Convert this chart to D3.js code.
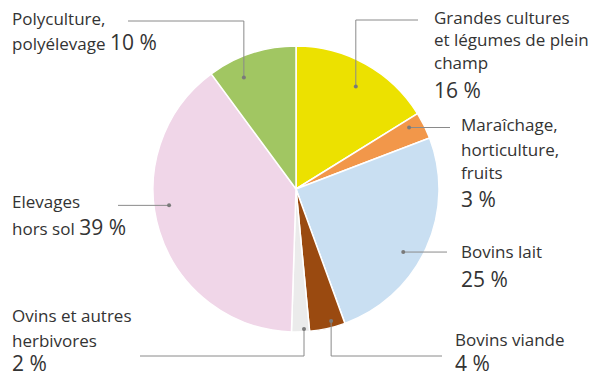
<!DOCTYPE html>
<html>
<head>
<meta charset="utf-8">
<script src="https://cdn.jsdelivr.net/npm/d3@7"></script>
<style>
  body { margin: 0; background: #fff; }
  text { font-family: "Open Sans", sans-serif; fill: #333; }
</style>
</head>
<body>
<script>
var width = 597;
var height = 376;

// données (dans l'ordre horaire depuis midi)
var categories = ["Grandes cultures et légumes de plein champ", "Maraîchage, horticulture, fruits",
  "Bovins lait", "Bovins viande", "Ovins et autres herbivores", "Elevages hors sol", "Polyculture, polyélevage"];
var values = [16, 3, 25, 4, 2, 39, 10];
var pctLabels = ["16 %", "3 %", "25 %", "4 %", "2 %", "39 %", "10 %"];
var colors = ["#ece100", "#f2974a", "#c9dff2", "#9a4a10", "#ebebeb", "#f0d6e8", "#a1c662"];

// texte des étiquettes, ligne par ligne ; le pourcentage est ajouté à la fin
var labelLines = [
  ["Grandes cultures", "et légumes de plein", "champ", ""],
  ["Maraîchage,", "horticulture,", "fruits", ""],
  ["Bovins lait", ""],
  ["Bovins viande", ""],
  ["Ovins et autres", "herbivores", ""],
  ["Elevages", "hors sol "],
  ["Polyculture,", "polyélevage "]
];

var cx = 296, cy = 189, radius = 143;

// placement des étiquettes et des traits de rappel
var layout = [
  {x: 434, y: 24, dy: [0, 22, 23, 29], frac: 0.52, r: 0.83, route: "vh", ly: 20, lx: 418},
  {x: 461, y: 131, dy: [0, 25, 23, 28], frac: 0.3, r: 0.9, route: "h", lx: 450},
  {x: 461, y: 258, dy: [0, 29], frac: 0.565, r: 0.87, route: "h", lx: 447},
  {x: 455, y: 346, dy: [0, 25], frac: 0.35, r: 0.955, route: "vh", ly: 356, lx: 442},
  {x: 12, y: 322, dy: [0, 25, 24], frac: 0.3, r: 0.98, route: "vh", ly: 356, lx: 140},
  {x: 12, y: 208, dy: [0, 27], frac: 0.57, r: 0.895, route: "h", lx: 118},
  {x: 12, y: 25, dy: [0, 25], frac: 0.31, r: 0.86, route: "vh", ly: 21, lx: 128}
];

var svg = d3.select("body")
  .append("svg")
  .attr("width", width)
  .attr("height", height);

var pie = d3.pie().sort(null).value(function (d) { return d; });
var arcs = pie(values);

var arc = d3.arc().innerRadius(0).outerRadius(radius);

var g = svg.append("g").attr("transform", `translate(${cx},${cy})`);

g.selectAll("path")
  .data(arcs)
  .enter()
  .append("path")
  .attr("d", arc)
  .attr("fill", (d, i) => colors[i])
  .attr("stroke", "#fff")
  .attr("stroke-width", 1.5);

// points d'ancrage calculés à partir des secteurs
function anchor(d, i) {
  var L = layout[i];
  var a = d.startAngle + (d.endAngle - d.startAngle) * L.frac;
  var r = radius * L.r;
  return [cx + r * Math.sin(a), cy - r * Math.cos(a)];
}

var leaders = svg.append("g");
arcs.forEach(function (d, i) {
  var L = layout[i];
  var p = anchor(d, i);
  var pts;
  if (L.route === "vh") {
    pts = [p, [p[0], L.ly], [L.lx, L.ly]];
  } else {
    pts = [p, [L.lx, p[1]]];
  }
  leaders.append("path")
    .attr("d", d3.line()(pts))
    .attr("fill", "none")
    .attr("stroke", "#8a8a8a")
    .attr("stroke-width", 1);
  leaders.append("circle")
    .attr("cx", p[0])
    .attr("cy", p[1])
    .attr("r", 2)
    .attr("fill", "#7a7a7a");
});

// étiquettes
var labels = svg.append("g");
labelLines.forEach(function (lines, i) {
  var L = layout[i];
  var t = labels.append("text");
  var yy = 0;
  lines.forEach(function (line, j) {
    yy += L.dy[j];
    var isLast = j === lines.length - 1;
    if (line !== "") {
      t.append("tspan")
        .attr("x", L.x)
        .attr("y", L.y + yy)
        .style("font-size", "17px")
        .text(line);
    }
    if (isLast) {
      var ps = t.append("tspan")
        .attr("y", L.y + yy)
        .style("font-size", "21px")
        .text(pctLabels[i]);
      if (line === "") ps.attr("x", L.x);
    }
  });
});
</script>
</body>
</html>
